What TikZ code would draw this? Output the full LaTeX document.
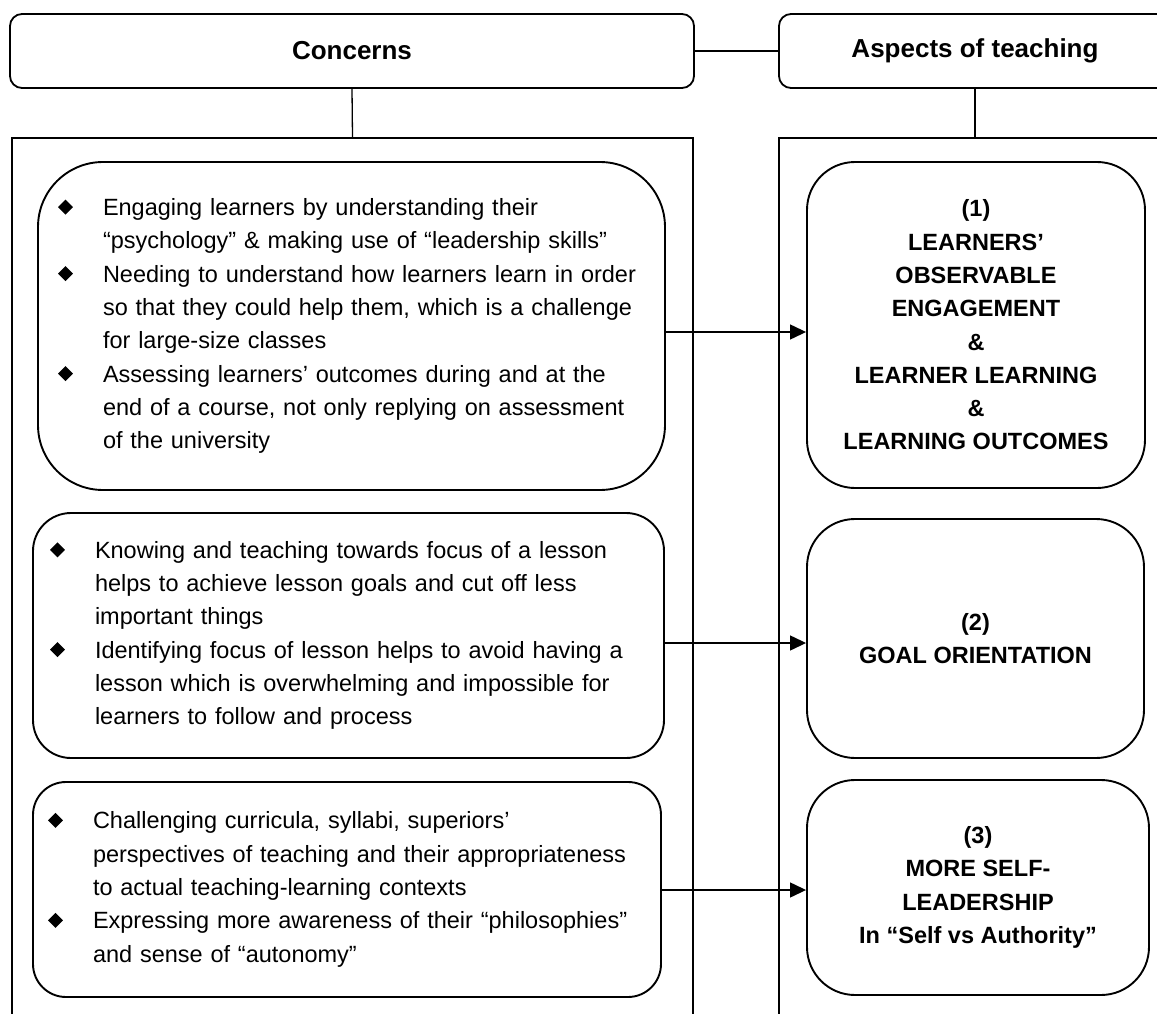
\documentclass[tikz,border=0pt]{standalone}
\usepackage{fontspec}
\setmainfont{Liberation Sans}
\usetikzlibrary{arrows.meta}
\newcommand\bul{\makebox[45pt][l]{\raisebox{1pt}{\rotatebox{45}{\rule{10.6pt}{10.6pt}}}}}
\newcommand\ind{\hspace*{45pt}}
\tikzset{
  hdr/.style={draw, line width=1.8pt, rounded corners=12pt, inner sep=0pt,
    font=\bfseries\fontsize{26}{30}\selectfont},
  frame/.style={draw, line width=1.7pt, inner sep=0pt},
  lbox/.style={draw, line width=1.9pt, inner sep=0pt, align=left,
    font=\fontsize{23.5}{33.3}\selectfont},
  rbox/.style={draw, line width=1.9pt, inner sep=0pt, align=center, rounded corners=48pt,
    font=\bfseries\fontsize{23.5}{33.3}\selectfont},
  link/.style={line width=1.3pt},
  arr/.style={line width=1.3pt, -{Triangle[length=16pt,width=15pt]}}
}
\begin{document}
\begin{tikzpicture}[x=1pt,y=-1pt]
\useasboundingbox (0,0) rectangle (1157,1014);
\clip (0,0) rectangle (1157,1014);
% headers
\node[hdr, minimum width=684pt, minimum height=74pt] (C) at (352,51) {Concerns};
\node[hdr, minimum width=392pt, minimum height=74pt] (A) at (975,51) {Aspects of teaching};
% frames
\node[frame, minimum width=681pt, minimum height=902pt] (LR) at (352.5,589) {};
\node[frame, minimum width=392pt, minimum height=902pt] (RR) at (975,589) {};
% left boxes
\node[lbox, rounded corners=65pt, minimum width=627pt, minimum height=328pt, text width=587pt] (B1) at (351.5,326) {%
\bul Engaging learners by understanding their\\
\ind “psychology” \& making use of “leadership skills”\\
\bul Needing to understand how learners learn in order\\
\ind so that they could help them, which is a challenge\\
\ind for large-size classes\\
\bul Assessing learners’ outcomes during and at the\\
\ind end of a course, not only replying on assessment\\
\ind of the university};
\node[lbox, rounded corners=38pt, minimum width=631pt, minimum height=245pt, text width=597pt] (B2) at (348.5,635.5) {%
\bul Knowing and teaching towards focus of a lesson\\
\ind helps to achieve lesson goals and cut off less\\
\ind important things\\
\bul Identifying focus of lesson helps to avoid having a\\
\ind lesson which is overwhelming and impossible for\\
\ind learners to follow and process};
\node[lbox, rounded corners=33pt, minimum width=628pt, minimum height=215pt, text width=598pt] (B3) at (347,889.5) {%
\bul Challenging curricula, syllabi, superiors’\\
\ind perspectives of teaching and their appropriateness\\
\ind to actual teaching-learning contexts\\
\bul Expressing more awareness of their “philosophies”\\
\ind and sense of “autonomy”};
% right boxes
\node[rbox, minimum width=338pt, minimum height=326pt] (R1) at (976,325) {(1)\\LEARNERS’\\OBSERVABLE\\ENGAGEMENT\\\&\\LEARNER LEARNING\\\&\\LEARNING OUTCOMES};
\node[rbox, minimum width=337pt, minimum height=239pt] (R2) at (975.5,638.5) {(2)\\GOAL ORIENTATION};
\node[rbox, minimum width=342pt, minimum height=215pt] (R3) at (978,887.5) {(3)\\MORE SELF-\\LEADERSHIP\\In “Self vs Authority”};
% connectors
\draw[link] (C.east) -- (A.west);
\draw[link] (C.south) -- (LR.north);
\draw[link] (A.south) -- (RR.north);
\draw[arr] (B1.east |- 0,332) -- (R1.west |- 0,332);
\draw[arr] (B2.east |- 0,643) -- (R2.west |- 0,643);
\draw[arr] (B3.east |- 0,890) -- (R3.west |- 0,890);
\end{tikzpicture}
\end{document}
